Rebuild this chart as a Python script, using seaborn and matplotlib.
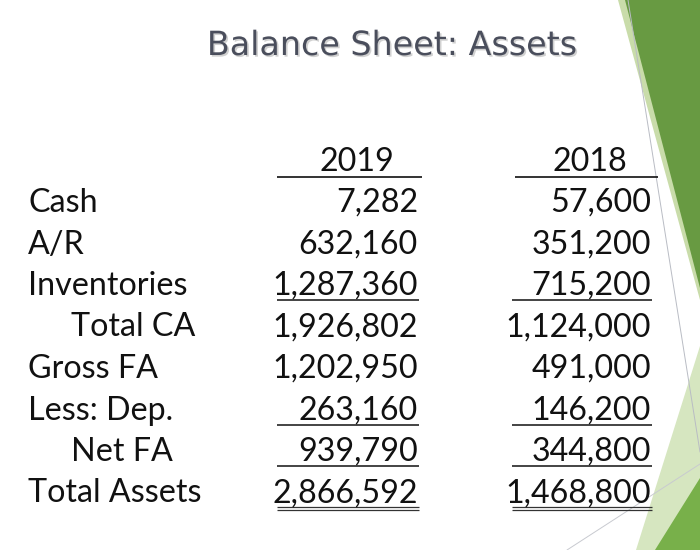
import matplotlib
matplotlib.use("Agg")
import matplotlib.pyplot as plt
import matplotlib.patheffects as pe
import seaborn as sns

# Data
ROW_LABELS = ['Cash', 'A/R', 'Inventories', 'Total CA', 'Gross FA', 'Less: Dep.', 'Net FA', 'Total Assets']
INDENTED = [False, False, False, True, False, False, True, False]
YEARS = ['2019', '2018']
VALUES_2019 = [7282, 632160, 1287360, 1926802, 1202950, 263160, 939790, 2866592]
VALUES_2018 = [57600, 351200, 715200, 1124000, 491000, 146200, 344800, 1468800]
UNDERLINE = ['', '', 'single', '', '', 'single', 'single', 'double']
TITLE = 'Balance Sheet: Assets'

sns.set_theme(style="white")
plt.rcParams['font.family'] = ['Lato', 'DejaVu Sans']

# Layout (pixel space of the slide)
W, H = 700, 550
FIRST_BASELINE = 212
ROW_STEP = 41.5
LABEL_X = 28
INDENT_X = 71
COL_LEFT = [277, 512]
COL_RIGHT = [418, 651]
HEADER_X = [357, 590]
HEADER_LINE = [(277, 422), (515, 658)]
FS = 23.2


def draw_decoration(ax):
    # Facet-style green triangles on the right edge
    ax.fill([618, 700, 700], [0, 0, 300], color='#c9dcaa', zorder=0, lw=0)
    ax.fill([625, 700, 700], [0, 0, 288], color='#689a42', zorder=1, lw=0)
    ax.fill([700, 700, 636], [346, 550, 550], color='#d6e6c0', zorder=0, lw=0)
    ax.fill([700, 700, 655], [478, 550, 550], color='#78b04a', zorder=1, lw=0)
    ax.plot([628, 700], [0, 452], color='#b9bcc4', lw=0.7, zorder=2)
    ax.plot([567, 700], [550, 464], color='#c8cad0', lw=0.7, zorder=2)


def main():
    fig = plt.figure(figsize=(7, 5.5), dpi=100)
    ax = fig.add_axes([0, 0, 1, 1])
    ax.set_xlim(0, W)
    ax.set_ylim(H, 0)
    ax.axis('off')

    draw_decoration(ax)

    ax.text(392, 55, TITLE, ha='center', va='baseline', fontsize=24,
            color='#4a4e5c', family='DejaVu Sans',
            path_effects=[pe.withSimplePatchShadow(offset=(1.2, -1.2),
                                                   shadow_rgbFace='#9a9a9a', alpha=0.45)])

    # column headers
    for i, yr in enumerate(YEARS):
        ax.text(HEADER_X[i], 171, yr, ha='center', va='baseline', fontsize=FS, color='#111111')
        ax.hlines(177, HEADER_LINE[i][0], HEADER_LINE[i][1], color='#111111', lw=1.2)

    columns = [VALUES_2019, VALUES_2018]
    for r, label in enumerate(ROW_LABELS):
        y = FIRST_BASELINE + r * ROW_STEP
        x = INDENT_X if INDENTED[r] else LABEL_X
        ax.text(x, y, label, ha='left', va='baseline', fontsize=FS, color='#111111')
        for c, vals in enumerate(columns):
            ax.text(COL_RIGHT[c], y, f"{vals[r]:,}", ha='right', va='baseline',
                    fontsize=FS, color='#111111')
            if UNDERLINE[r] == 'single':
                ax.hlines(y + 5, COL_LEFT[c], COL_RIGHT[c] + 1, color='#111111', lw=1.1)
            elif UNDERLINE[r] == 'double':
                ax.hlines(y + 4, COL_LEFT[c], COL_RIGHT[c] + 1, color='#333333', lw=0.9)
                ax.hlines(y + 7, COL_LEFT[c], COL_RIGHT[c] + 1, color='#333333', lw=0.9)

    fig.savefig('out.png', dpi=100)
    plt.close(fig)


if __name__ == "__main__":
    main()
